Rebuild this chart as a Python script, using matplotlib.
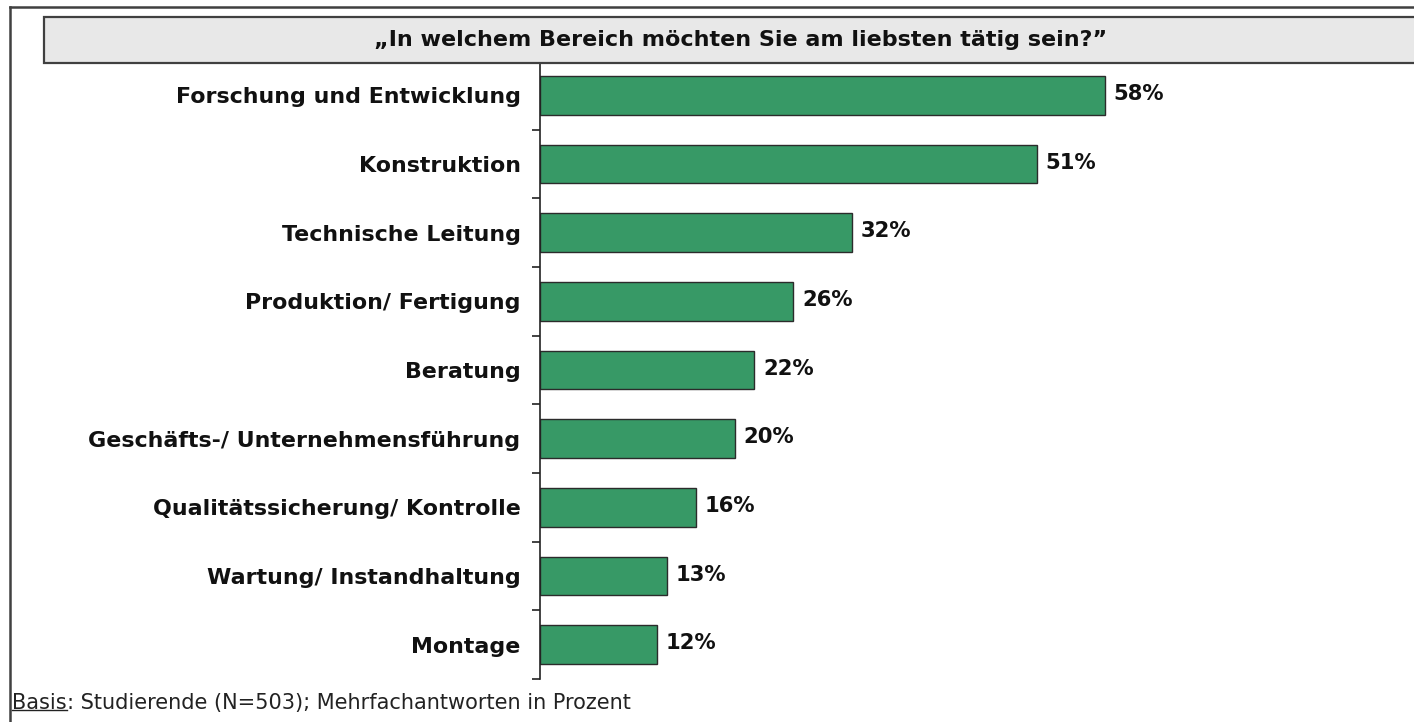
import matplotlib.pyplot as plt
from matplotlib.patches import Rectangle
from matplotlib.lines import Line2D

categories = [
    "Forschung und Entwicklung",
    "Konstruktion",
    "Technische Leitung",
    "Produktion/ Fertigung",
    "Beratung",
    "Geschäfts-/ Unternehmensführung",
    "Qualitätssicherung/ Kontrolle",
    "Wartung/ Instandhaltung",
    "Montage",
]
values = [58, 51, 32, 26, 22, 20, 16, 13, 12]
title = "\u201eIn welchem Bereich möchten Sie am liebsten tätig sein?\u201d"
footnote_key = "Basis"
footnote_rest = ": Studierende (N=503); Mehrfachantworten in Prozent"

W, H = 1414, 722
fig = plt.figure(figsize=(W / 100, H / 100), dpi=100)
plt.rcParams["font.family"] = ["DejaVu Sans"]

# outer frame (top and left only)
fig.add_artist(Line2D([10 / W, 1], [1 - 7 / H, 1 - 7 / H], color="#404040", lw=1.8))
fig.add_artist(Line2D([10 / W, 10 / W], [1 - 7 / H, 0], color="#404040", lw=1.8))

ax = fig.add_axes([540 / W, 1 - 679 / H, (W - 540) / W, (679 - 61) / H])
ypos = list(range(len(categories)))
ax.barh(ypos, values, height=0.56, color="#379966", edgecolor="#2b2b2b", linewidth=1.0)
for y, v in zip(ypos, values):
    ax.text(v + 0.9, y - 0.02, f"{v}%", va="center", ha="left",
            fontsize=15.2, fontweight="bold", color="#111111")

ax.set_xlim(0, (W - 540) / 9.74)
ax.set_ylim(len(categories) - 0.5, -0.5)
ax.set_yticks(ypos)
ax.set_yticklabels(categories, fontsize=15.9, fontweight="bold", color="#111111")
ax.set_yticks([i - 0.5 for i in range(len(categories) + 1)], minor=True)
ax.tick_params(axis="y", which="major", length=0, pad=14)
ax.tick_params(axis="y", which="minor", length=6, width=1.2, color="#222222", direction="out")
ax.set_xticks([])
for s in ["top", "right", "bottom"]:
    ax.spines[s].set_visible(False)
ax.spines["left"].set_color("#222222")
ax.spines["left"].set_linewidth(1.2)

# title box
fig.add_artist(Rectangle((44 / W, 1 - 63 / H), (W + 10 - 44) / W, 46 / H,
                         transform=fig.transFigure, facecolor="#e8e8e8",
                         edgecolor="#404040", linewidth=1.6, zorder=5))
fig.text(741 / W, 1 - 40 / H, title, ha="center", va="center",
         fontsize=16, fontweight="bold", color="#111111", zorder=6)

# footnote with underlined key
key = fig.text(12 / W, 1 - 703 / H, footnote_key, ha="left", va="center",
               fontsize=15, color="#222222")
fig.canvas.draw()
bb = key.get_window_extent()
ax.annotate(footnote_rest, xy=(1, 0.5), xycoords=key, va="center", ha="left",
            fontsize=15, color="#222222", annotation_clip=False)
fig.add_artist(Line2D([bb.x0 / W, bb.x1 / W], [(bb.y0 + 3) / H, (bb.y0 + 3) / H],
                      color="#222222", lw=1))

fig.savefig("out.png", dpi=100)
